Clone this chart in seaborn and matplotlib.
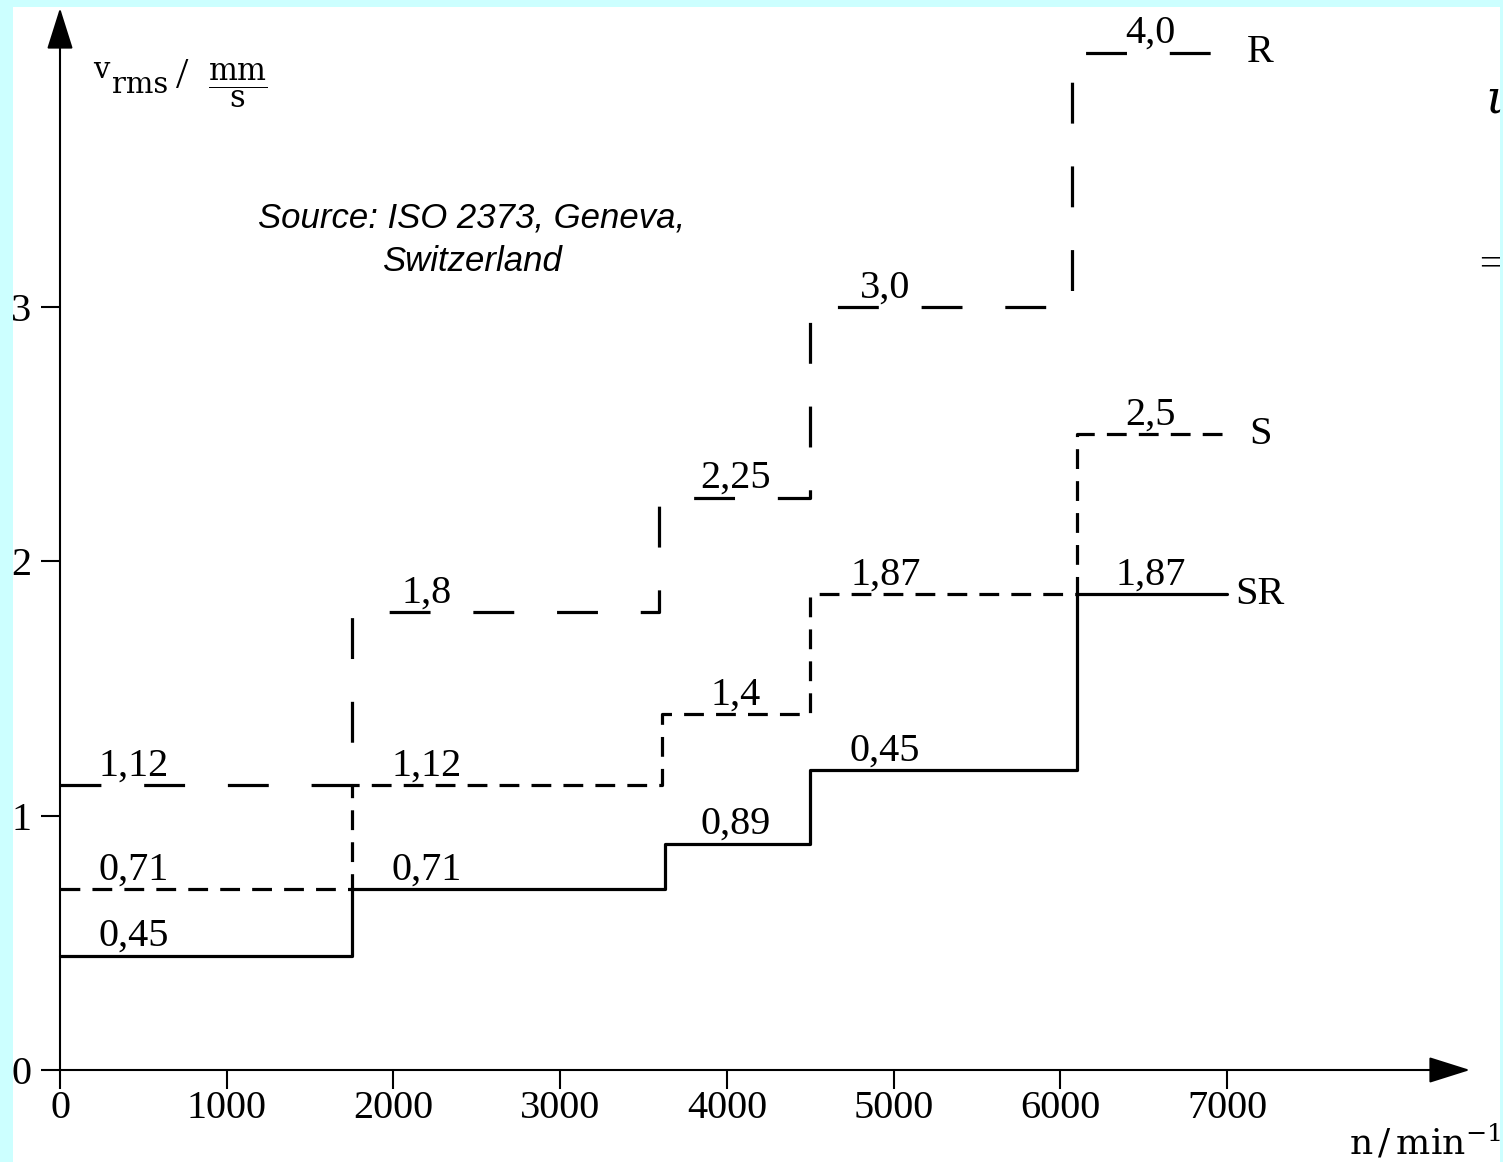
import numpy as np
import pandas as pd
import matplotlib
matplotlib.use("Agg")
import matplotlib.pyplot as plt
from matplotlib.patches import Rectangle
import seaborn as sns

# step edges (n, 1/min) and levels (v_rms, mm/s) per class
sr_x = [0, 1750, 3630, 4500, 6100, 7000]
sr_y = [0.45, 0.71, 0.89, 1.18, 1.87, 1.87]
s_x = [0, 1750, 3610, 4500, 6100, 7000]
s_y = [0.71, 1.12, 1.40, 1.87, 2.50, 2.50]
r_x = [0, 1750, 3590, 4500, 6070, 7000]
r_y = [1.12, 1.80, 2.25, 3.00, 4.00, 4.00]

# value labels written above each step
label_x = [440, 2200, 4050, 4950, 6540]
sr_labels = ["0,45", "0,71", "0,89", "0,45", "1,87"]
s_labels = ["0,71", "1,12", "1,4", "1,87", "2,5"]
r_labels = ["1,12", "1,8", "2,25", "3,0", "4,0"]

x_ticks = [0, 1000, 2000, 3000, 4000, 5000, 6000, 7000]
y_ticks = [0, 1, 2, 3]

W, H = 1503, 1162
sns.set_style("white")
plt.rcParams['font.family'] = ['Liberation Serif', 'DejaVu Serif']
plt.rcParams['mathtext.fontset'] = 'dejavuserif'
plt.rcParams['text.color'] = 'black'
plt.rcParams['xtick.color'] = 'black'
plt.rcParams['ytick.color'] = 'black'

fig = plt.figure(figsize=(W / 100, H / 100), dpi=100, facecolor='#ccffff')
fig.patches.append(Rectangle((13 / W, 0), (1500 - 13) / W, (H - 7) / H,
                             transform=fig.transFigure, facecolor='white',
                             edgecolor='none', zorder=-10))
ax = fig.add_axes([0, 0, 1, 1])
ax.patch.set_alpha(0)

# pixel mapping: x=0 -> 60px, x=7000 -> 1227px ; y=0 -> 1070px, y=3 -> 307px
sx = (1227 - 60) / 7000
sy = (1070 - 307) / 3
ax.set_xlim(-60 / sx, (W - 60) / sx)
ax.set_ylim((1070 - H) / sy, 1070 / sy)

df = pd.concat([
    pd.DataFrame({'n': sr_x, 'v': sr_y, 'cls': 'SR'}),
    pd.DataFrame({'n': s_x, 'v': s_y, 'cls': 'S'}),
    pd.DataFrame({'n': r_x, 'v': r_y, 'cls': 'R'}),
])
sns.lineplot(data=df, x='n', y='v', hue='cls', style='cls',
             palette={'SR': 'black', 'S': 'black', 'R': 'black'},
             dashes={'SR': '', 'S': (6.2, 3.8), 'R': (12.8, 13.4)},
             drawstyle='steps-post', estimator=None, sort=False,
             lw=2.3, legend=False, ax=ax)

for labels, ys in [(sr_labels, sr_y), (s_labels, s_y), (r_labels, r_y)]:
    for lx, txt, yv in zip(label_x, labels, ys):
        ax.annotate(txt, (lx, yv), xytext=(0, 7), textcoords='offset points',
                    ha='center', va='baseline', fontsize=29)

for name, ys in [('R', r_y), ('S', s_y), ('SR', sr_y)]:
    ax.text(7200, ys[-1], name, ha='center', va='center', fontsize=29)

# axes through the origin with arrow heads
for side in ['top', 'right']:
    ax.spines[side].set_visible(False)
for side in ['left', 'bottom']:
    ax.spines[side].set_position(('data', 0))
    ax.spines[side].set_color('none')
x_tip = (1470 - 60) / sx
y_tip = (1070 - 8) / sy
arrow = dict(arrowstyle='-|>,head_length=2.6,head_width=0.82', mutation_scale=10,
             lw=1.5, color='black', shrinkA=0, shrinkB=0)
ax.annotate('', xy=(0, y_tip), xytext=(0, 0), arrowprops=arrow)
ax.annotate('', xy=(x_tip, 0), xytext=(0, 0), arrowprops=arrow)

ax.set_xticks(x_ticks)
ax.set_yticks(y_ticks)
ax.set_xticklabels([str(t) for t in x_ticks])
ax.set_yticklabels([str(t) for t in y_ticks])
ax.tick_params(axis='both', direction='out', length=13.7, width=1.5,
               labelsize=29, color='black', labelcolor='black')
ax.tick_params(axis='x', pad=1, bottom=True)
ax.tick_params(axis='y', pad=7, left=True)
ax.set_xlabel('')
ax.set_ylabel('')


def px(x, y):
    return x / W, 1 - y / H


# y axis label: v_rms / (mm / s)
serif = ['DejaVu Serif']
fig.text(*px(93, 78), 'v', ha='left', va='baseline', fontsize=21, family=serif)
fig.text(*px(112, 93), 'rms', ha='left', va='baseline', fontsize=21, family=serif)
fig.text(*px(176, 88), '/', ha='left', va='baseline', fontsize=32,
         family=['Liberation Serif'])
fig.text(*px(238, 86), r'$\dfrac{\mathrm{mm}}{\mathrm{s}}$',
         ha='center', va='center', fontsize=22)

# x axis label
fig.text(*px(1501, 1143), r'$\mathrm{n}\,/\,\mathrm{min}^{-1}$',
         ha='right', va='center', fontsize=26)

ax.text((472 - 60) / sx, (1070 - 240) / sy,
        'Source: ISO 2373, Geneva,\nSwitzerland',
        ha='center', va='center', fontsize=25, style='italic',
        family=['Liberation Sans', 'DejaVu Sans'], linespacing=1.4)

# fragments of neighbouring text at the right edge
fig.text(*px(1501, 102), r'$\iota$', ha='right', va='center', fontsize=34)
fig.text(*px(1501, 266), '=', ha='right', va='center', fontsize=28)

fig.savefig('out.png', dpi=100, facecolor=fig.get_facecolor())
